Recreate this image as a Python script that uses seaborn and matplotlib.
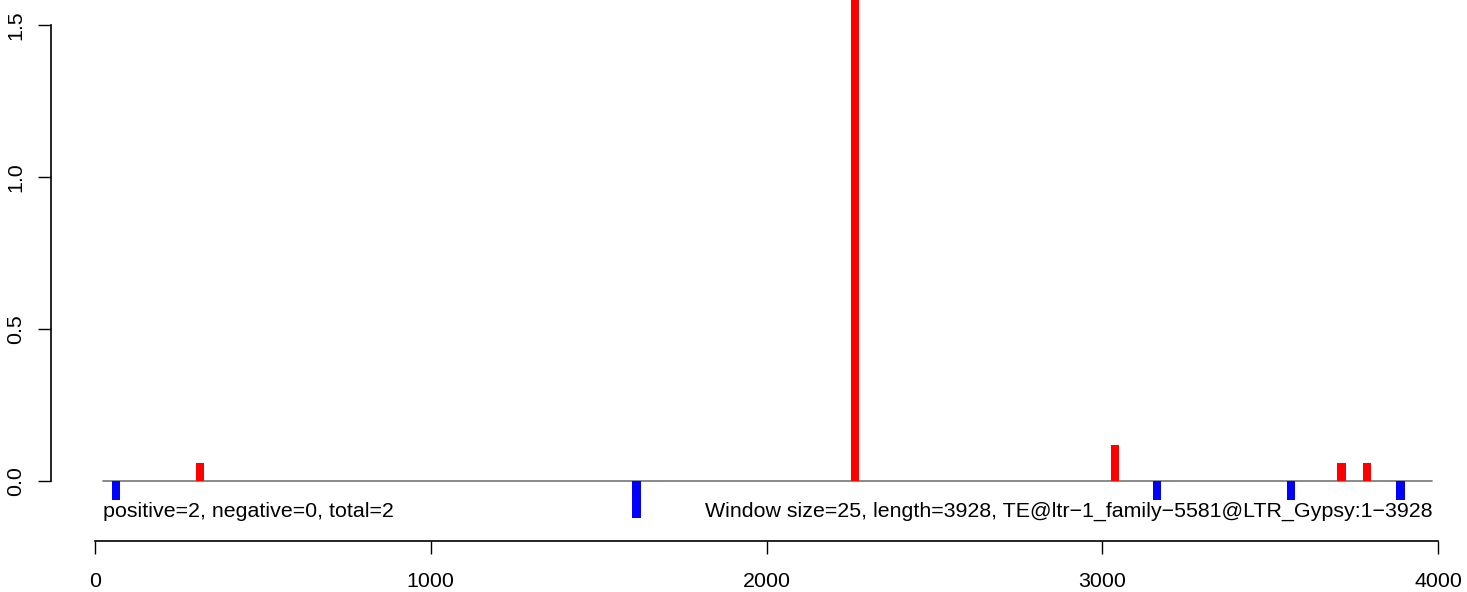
import matplotlib
matplotlib.use("Agg")
import matplotlib.pyplot as plt
import seaborn as sns

# window start positions and signal values (window size 25)
pos_starts = [300, 2250, 3025, 3700, 3775]
pos_values = [0.06, 1.6, 0.12, 0.06, 0.06]
neg_starts = [50, 1600, 3150, 3550, 3875]
neg_values = [-0.0625, -0.12, -0.0625, -0.0625, -0.0625]
window = 25
seq_length = 3928
left_label = "positive=2, negative=0, total=2"
right_label = "Window size=25, length=3928, TE@ltr\u22121_family\u22125581@LTR_Gypsy:1\u22123928"
x_ticks = [0, 1000, 2000, 3000, 4000]
y_ticks = [0.0, 0.5, 1.0, 1.5]

sns.set_theme(style="white")
plt.rcParams["font.family"] = ["Liberation Sans", "DejaVu Sans"]
plt.rcParams["text.color"] = "black"
plt.rcParams["xtick.color"] = "black"
plt.rcParams["ytick.color"] = "black"

fig = plt.figure(figsize=(14.67, 5.92), dpi=100)
ax = fig.add_axes([51 / 1467, 51 / 592, 1 - 51 / 1467, 1 - 51 / 592])

# baseline and windows
ax.plot([25, 3982], [0, 0], color="#808080", lw=1.3, zorder=1)
ax.bar(pos_starts, pos_values, width=window, align="edge", color="red", lw=0, zorder=2)
ax.bar(neg_starts, neg_values, width=window, align="edge", color="blue", lw=0, zorder=2)

ax.text(25, -0.118, left_label, ha="left", va="baseline", fontsize=15.4)
ax.text(3982, -0.118, right_label, ha="right", va="baseline", fontsize=15.4)

ax.set_xlim(-131, 4086)
ax.set_ylim(-0.197, 1.582)

for s in ["top", "right"]:
    ax.spines[s].set_visible(False)
ax.spines["left"].set_bounds(0, 1.5)
ax.spines["bottom"].set_bounds(0, 4000)
ax.spines["left"].set_color("black")
ax.spines["bottom"].set_color("black")
ax.spines["left"].set_linewidth(1.2)
ax.spines["bottom"].set_linewidth(1.2)

ax.set_xticks(x_ticks)
ax.set_xticklabels([str(t) for t in x_ticks], fontsize=15.4)
ax.set_yticks(y_ticks)
ax.set_yticklabels(["%.1f" % t for t in y_ticks], fontsize=15.4, rotation=90, va="center")
ax.tick_params(axis="both", direction="out", length=9.5, width=1.0,
               bottom=True, left=True)
ax.tick_params(axis="x", pad=13)
ax.tick_params(axis="y", pad=9)

fig.savefig("out.png", dpi=100)
